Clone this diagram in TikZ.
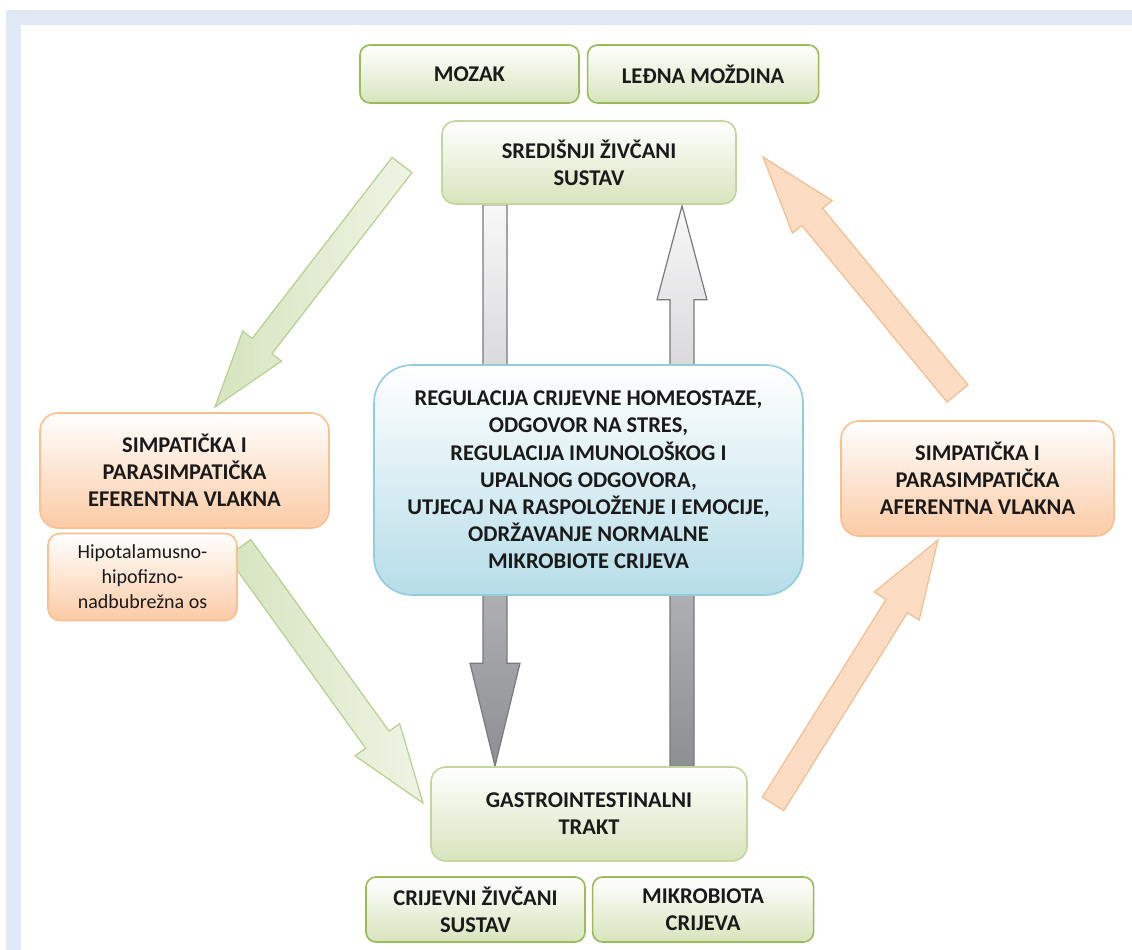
\documentclass[tikz,border=0pt]{standalone}
\usepackage{fontspec}
\setmainfont{Carlito}
\usepackage{tikz}
\usetikzlibrary{positioning,calc}

\definecolor{framecol}{HTML}{E1E8F5}
\definecolor{greenline}{HTML}{9BBB59}
\definecolor{greenlight}{HTML}{C3D69B}
\definecolor{greenfill}{HTML}{D7E4BD}
\definecolor{orangeline}{HTML}{FAC090}
\definecolor{orangefill}{HTML}{FBCBA5}
\definecolor{blueline}{HTML}{93CDDD}
\definecolor{bluefill}{HTML}{B6DDE8}
\definecolor{arrowtop}{HTML}{F8F8F9}
\definecolor{arrowbot}{HTML}{8E8F93}
\definecolor{arrowline}{HTML}{7A7A7E}
\definecolor{garrowdark}{HTML}{D6E4BF}
\definecolor{garrowlight}{HTML}{EEF4E4}
\definecolor{garrowline}{HTML}{B7D08F}
\definecolor{oarrowfill}{HTML}{FCDCC3}
\definecolor{oarrowline}{HTML}{F5BC8E}
\definecolor{textcol}{HTML}{1A1A1A}

\pgfdeclarelayer{background}
\pgfsetlayers{background,main}

% wide arrow: style, tail, tip, half shaft, half head, head length
\newcommand{\fatarrow}[6]{%
  \coordinate (h) at ($(#3)!#6!(#2)$);
  \path[#1] ($(#2)!#4!90:(#3)$) -- ($(h)!#4!90:(#3)$) -- ($(h)!#5!90:(#3)$)
    -- (#3) -- ($(h)!#5!-90:(#3)$) -- ($(h)!#4!-90:(#3)$) -- ($(#2)!#4!-90:(#3)$) -- cycle;
}

\begin{document}
\begin{tikzpicture}[x=1pt, y=-1pt,
    boxtext/.style={text=textcol, align=center, inner sep=0pt,
      font=\fontsize{22.5}{27.2}\selectfont\bfseries},
    greennode/.style={boxtext, rectangle, rounded corners=10pt, draw=greenline, line width=1.6pt,
      top color=white, bottom color=greenfill},
    biggreennode/.style={greennode, draw=greenlight, rounded corners=13pt},
    orangenode/.style={boxtext, rectangle, rounded corners=18pt, draw=orangeline, line width=1.6pt,
      top color=white, bottom color=orangefill},
    bluenode/.style={boxtext, rectangle, rounded corners=38pt, draw=blueline, line width=1.6pt,
      top color=white, bottom color=bluefill},
    grayarrow/.style={top color=arrowtop, bottom color=arrowbot, draw=arrowline, line width=1.2pt},
    greenarrow/.style={left color=garrowdark, right color=garrowlight, draw=garrowline, line width=1.2pt},
    orangearrow/.style={fill=oarrowfill, draw=oarrowline, line width=1.2pt}]

    \useasboundingbox (0,0) rectangle (1132,950);

    \node[greennode, minimum width=219pt, minimum height=58pt] (1) at (469.5,74) {MOZAK};
    \node[greennode, minimum width=231pt, minimum height=58pt] (2) [right=7pt of 1] {LEĐNA MOŽDINA};
    \node[biggreennode, minimum width=294pt, minimum height=83pt] (3) at (589,162.5) {SREDIŠNJI ŽIVČANI\\SUSTAV};

    \node[bluenode, minimum width=429pt, minimum height=230pt] (4) at (588.5,480)
      {REGULACIJA CRIJEVNE HOMEOSTAZE,\\ODGOVOR NA STRES,\\REGULACIJA IMUNOLOŠKOG I\\UPALNOG ODGOVORA,\\UTJECAJ NA RASPOLOŽENJE I EMOCIJE,\\ODRŽAVANJE NORMALNE\\MIKROBIOTE CRIJEVA};

    \node[orangenode, minimum width=289pt, minimum height=115pt] (5) at (184.5,470.5)
      {SIMPATIČKA I\\PARASIMPATIČKA\\EFERENTNA VLAKNA};
    \node[orangenode, rounded corners=12pt, minimum width=189pt, minimum height=87pt,
      font=\fontsize{20}{25}\selectfont] (6) at (142.5,577) {Hipotalamusno-\\hipofizno-\\nadbubrežna os};
    \node[orangenode, minimum width=273pt, minimum height=115pt] (7) at (977.5,478.5)
      {SIMPATIČKA I\\PARASIMPATIČKA\\AFERENTNA VLAKNA};

    \node[biggreennode, rounded corners=15pt, minimum width=316pt, minimum height=94pt] (8) at (589,814)
      {GASTROINTESTINALNI\\TRAKT};
    \node[greennode, minimum width=219pt, minimum height=65pt] (9) at (475.5,909.5) {CRIJEVNI ŽIVČANI\\SUSTAV};
    \node[greennode, minimum width=221pt, minimum height=65pt] (10) [right=6pt of 9] {MIKROBIOTA\\CRIJEVA};

    \coordinate (a1) at (402,165);
    \coordinate (a2) at (215,407);
    \coordinate (b1) at (239,548);
    \coordinate (b2) at (423,803);
    \coordinate (c1) at (773,804);
    \coordinate (c2) at (938,540);
    \coordinate (d1) at (957.5,393.5);
    \coordinate (d2) at (763,157);

    \begin{pgfonlayer}{background}
      \fill[white] (0,0) rectangle (1132,950);
      \fill[framecol] (6,10) rectangle (1132,25);
      \fill[framecol] (6,10) rectangle (21,950);

      \fatarrow{grayarrow}{$(3.south)+(-94,0)$}{$(8.north)+(-94,0)$}{12pt}{25pt}{103pt}
      \fatarrow{grayarrow}{$(8.north)+(93,0)$}{$(3.south)+(93,1)$}{12pt}{25pt}{94pt}

      \fatarrow{greenarrow}{a1}{a2}{12.5pt}{24.5pt}{77pt}
      \fatarrow{greenarrow}{b1}{b2}{14.5pt}{27.5pt}{78pt}
      \fatarrow{orangearrow}{c1}{c2}{12.6pt}{26.5pt}{78pt}
      \fatarrow{orangearrow}{d1}{d2}{13.5pt}{25.6pt}{77.5pt}
    \end{pgfonlayer}

\end{tikzpicture}
\end{document}
